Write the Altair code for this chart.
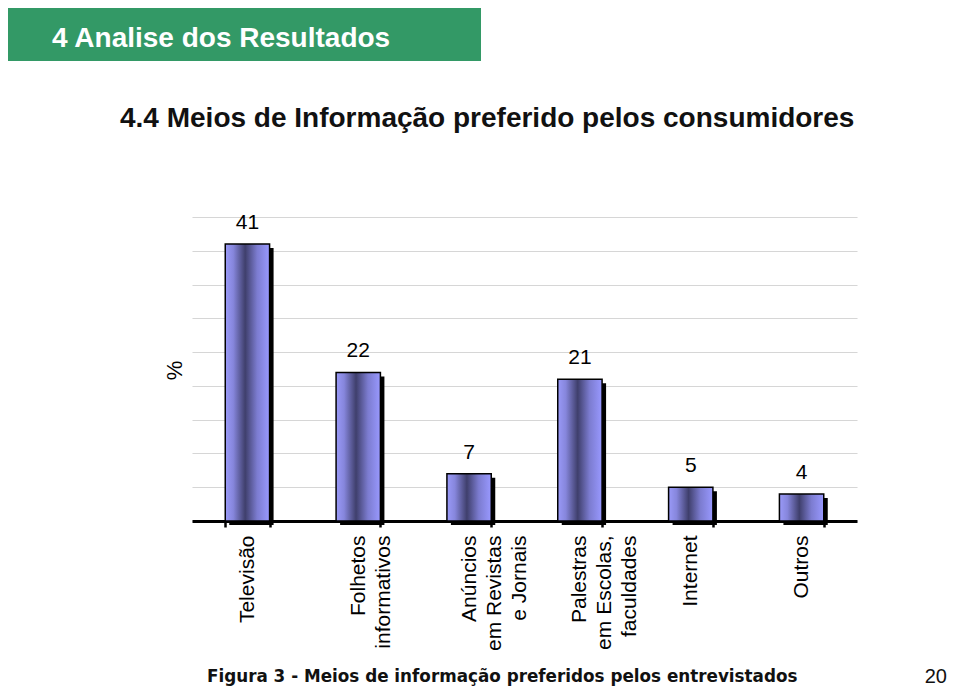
import altair as alt
import pandas as pd

categories = ["Televisão", "Folhetos\ninformativos", "Anúncios\nem Revistas\ne Jornais",
              "Palestras\nem Escolas,\nfaculdades", "Internet", "Outros"]
values = [41, 22, 7, 21, 5, 4]
y_ticks = [0, 5, 10, 15, 20, 25, 30, 35, 40, 45]

df = pd.DataFrame({"cat": categories, "val": values})

W, H = 665, 304
FONT = "Liberation Sans"

xscale = alt.Scale(domain=categories, paddingInner=0.6, paddingOuter=0.3)
yscale = alt.Scale(domain=[0, 45], nice=False)

x_axis = alt.Axis(labelAngle=-90, labelAlign="right", labelBaseline="middle",
                  labelFont=FONT, labelFontSize=21, labelColor="#000000",
                  labelPadding=8, labelLineHeight=25, labelLimit=0,
                  ticks=True, tickBand="extent", tickSize=6, tickWidth=2.5,
                  tickColor="#000000",
                  domainColor="#000000", domainWidth=3,
                  grid=False, labelExpr="split(datum.label, '\\n')")
x_main = alt.X("cat:N", sort=categories, scale=xscale, title=None, axis=x_axis)
y_main = alt.Y("val:Q", scale=yscale, title="%",
               axis=alt.Axis(values=y_ticks, labels=False, ticks=False, domain=False,
                             grid=True, gridColor="#d6d6d6", gridWidth=1.2,
                             titleFont=FONT, titleFontSize=22, titleFontWeight="normal",
                             titleColor="#000000", titleAngle=-90,
                             titleAlign="center", titleBaseline="middle",
                             titleX=-18, titleY=153))

gradient = alt.Gradient(
    gradient="linear", x1=0, x2=1, y1=0, y2=0,
    stops=[alt.GradientStop(color="#9a9af8", offset=0),
           alt.GradientStop(color="#8686dc", offset=0.18),
           alt.GradientStop(color="#3f3f6c", offset=0.45),
           alt.GradientStop(color="#7c7cd0", offset=0.72),
           alt.GradientStop(color="#9999ff", offset=1)])

shadow = alt.Chart(df).mark_bar(color="#000000", xOffset=4, yOffset=4).encode(
    x=x_main, y=y_main)

bars = alt.Chart(df).mark_bar(color=gradient, stroke="#000000", strokeWidth=1.5).encode(
    x=x_main, y=y_main)

labels = alt.Chart(df).mark_text(font=FONT, fontSize=21, color="#000000",
                                 baseline="bottom", dy=-11).encode(
    x=x_main, y=y_main, text="val:Q")

ann = pd.DataFrame({"a": [0]})
header_rect = alt.Chart(ann).mark_rect(color="#339966").encode(
    x=alt.value(5 - 192), x2=alt.value(481 - 192),
    y=alt.value(6 - 217), y2=alt.value(61 - 217))
header_text = alt.Chart(ann).mark_text(text="4 Analise dos Resultados", font=FONT,
                                       fontSize=28, fontWeight="bold", color="#ffffff",
                                       align="left", baseline="alphabetic").encode(
    x=alt.value(52 - 192), y=alt.value(47 - 217))
title_text = alt.Chart(ann).mark_text(text="4.4 Meios de Informação preferido pelos consumidores",
                                      font=FONT, fontSize=28, fontWeight="bold", color="#111111",
                                      align="left", baseline="alphabetic").encode(
    x=alt.value(120 - 192), y=alt.value(127 - 217))
caption = alt.Chart(ann).mark_text(text="Figura 3 - Meios de informação preferidos pelos entrevistados",
                                   font="DejaVu Sans", fontSize=16.8, fontWeight="bold",
                                   color="#111111",
                                   align="left", baseline="alphabetic").encode(
    x=alt.value(207 - 192), y=alt.value(682 - 217))
page = alt.Chart(ann).mark_text(text="20", font=FONT, fontSize=20, color="#111111",
                                align="right", baseline="alphabetic").encode(
    x=alt.value(947 - 192), y=alt.value(683 - 217))

chart = alt.layer(shadow, bars, labels, header_rect, header_text, title_text,
                  caption, page).properties(
    width=W, height=H,
    background="#ffffff",
    autosize=alt.AutoSizeParams(type="none"),
    padding={"left": 184, "top": 209, "right": 95, "bottom": 165},
).configure_view(stroke="transparent", strokeWidth=0)

chart.save("out.html", embed_options={"renderer": "svg", "actions": False})
